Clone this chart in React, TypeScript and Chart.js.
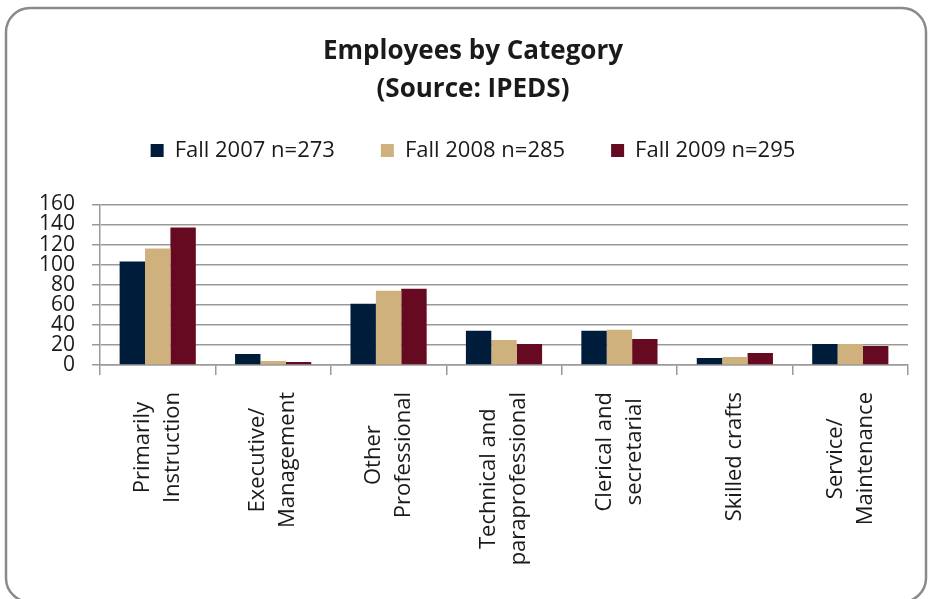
import React, { useEffect, useRef } from "react";
import { Chart, registerables } from "chart.js";

Chart.register(...registerables);

const categories: string[][] = [
  ["Primarily", "Instruction"],
  ["Executive/", "Management"],
  ["Other", "Professional"],
  ["Technical and", "paraprofessional"],
  ["Clerical and", "secretarial"],
  ["Skilled crafts"],
  ["Service/", "Maintenance"],
];
const seriesNames = ["Fall 2007 n=273", "Fall 2008 n=285", "Fall 2009 n=295"];
const fall2007 = [103, 11, 61, 34, 34, 7, 21];
const fall2008 = [116, 4, 74, 25, 35, 8, 21];
const fall2009 = [137, 3, 76, 21, 26, 12, 19];
const seriesColors = ["#001c3b", "#cfb17e", "#650a20"];
const yMin = 0;
const yMax = 160;
const yStep = 20;
const titleLines = ["Employees by Category", "(Source: IPEDS)"];

const FONT = '"Open Sans", "DejaVu Sans", sans-serif';
const TEXT = "#1a1a1a";
const GRID = "#9a9a9a";

const framePlugin = {
  id: "frame",
  beforeDraw(chart: any) {
    const ctx = chart.ctx;
    ctx.save();
    ctx.fillStyle = "#ffffff";
    ctx.fillRect(0, 0, chart.width, chart.height);
    ctx.strokeStyle = "#8a8a8a";
    ctx.lineWidth = 2.5;
    ctx.beginPath();
    (ctx as any).roundRect(6, 8, 920, 594, 24);
    ctx.stroke();
    ctx.restore();
  },
};

const xLabelPlugin = {
  id: "xLabels",
  afterDraw(chart: any) {
    const ctx = chart.ctx;
    const xs = chart.scales.x;
    const labels: string[][] = chart.data.labels;
    ctx.save();
    ctx.font = `22px ${FONT}`;
    ctx.fillStyle = TEXT;
    ctx.textAlign = "center";
    ctx.textBaseline = "middle";
    const lineSpacing = 30;
    const yTop = xs.top + 27;
    labels.forEach((lines, i) => {
      const x = xs.getPixelForValue(i);
      const maxW = Math.max(...lines.map((l) => ctx.measureText(l).width));
      ctx.save();
      ctx.translate(x, yTop);
      ctx.rotate(-Math.PI / 2);
      lines.forEach((line, j) => {
        const v = (j - (lines.length - 1) / 2) * lineSpacing;
        ctx.fillText(line, -maxW / 2, v);
      });
      ctx.restore();
    });
    ctx.restore();
  },
};

export default function App() {
  const ref = useRef<HTMLCanvasElement | null>(null);
  useEffect(() => {
    if (!ref.current) return;
    const chart = new Chart(ref.current, {
      type: "bar",
      data: {
        labels: categories as any,
        datasets: [fall2007, fall2008, fall2009].map((d, i) => ({
          label: seriesNames[i],
          data: d,
          backgroundColor: seriesColors[i],
          borderWidth: 0,
          categoryPercentage: 0.66,
          barPercentage: 1.0,
        })),
      },
      options: {
        responsive: false,
        animation: false,
        layout: { padding: { left: 38, right: 20, top: 0, bottom: 0 } },
        plugins: {
          title: {
            display: true,
            text: titleLines,
            color: TEXT,
            font: { family: FONT, size: 26, weight: "bold", lineHeight: 1.45 },
            padding: { top: 33, bottom: -15 },
          },
          legend: {
            display: true,
            labels: {
              boxWidth: 13,
              boxHeight: 13,
              padding: 46,
              color: TEXT,
              font: { family: FONT, size: 22 },
            },
          },
          subtitle: {
            display: true,
            text: "",
            weight: 500,
            font: { size: 1, lineHeight: 1 },
            padding: { top: 0, bottom: 32 },
          } as any,
          tooltip: { enabled: false },
        },
        scales: {
          x: {
            afterFit(scale: any) {
              scale.height = 234;
            },
            grid: {
              display: true,
              drawOnChartArea: false,
              drawTicks: true,
              tickLength: 10,
              color: GRID,
              lineWidth: 1.5,
            },
            border: { display: true, color: GRID, width: 1.5 },
            ticks: { display: false },
          },
          y: {
            min: yMin,
            max: yMax,
            afterFit(scale: any) {
              scale.width = 62;
            },
            ticks: {
              stepSize: yStep,
              autoSkip: false,
              padding: 17,
              color: TEXT,
              font: { family: FONT, size: 21 },
            },
            grid: { color: GRID, lineWidth: 1.5, tickLength: 8 },
            border: { display: true, color: GRID, width: 1.5 },
          },
        },
      },
      plugins: [framePlugin, xLabelPlugin],
    });
    return () => chart.destroy();
  }, []);
  return (
    <div style={{ position: "fixed", left: 0, top: 0, width: 928, height: 599, background: "#fff" }}>
      <canvas ref={ref} width={928} height={599} style={{ width: 928, height: 599, display: "block" }} />
    </div>
  );
}
